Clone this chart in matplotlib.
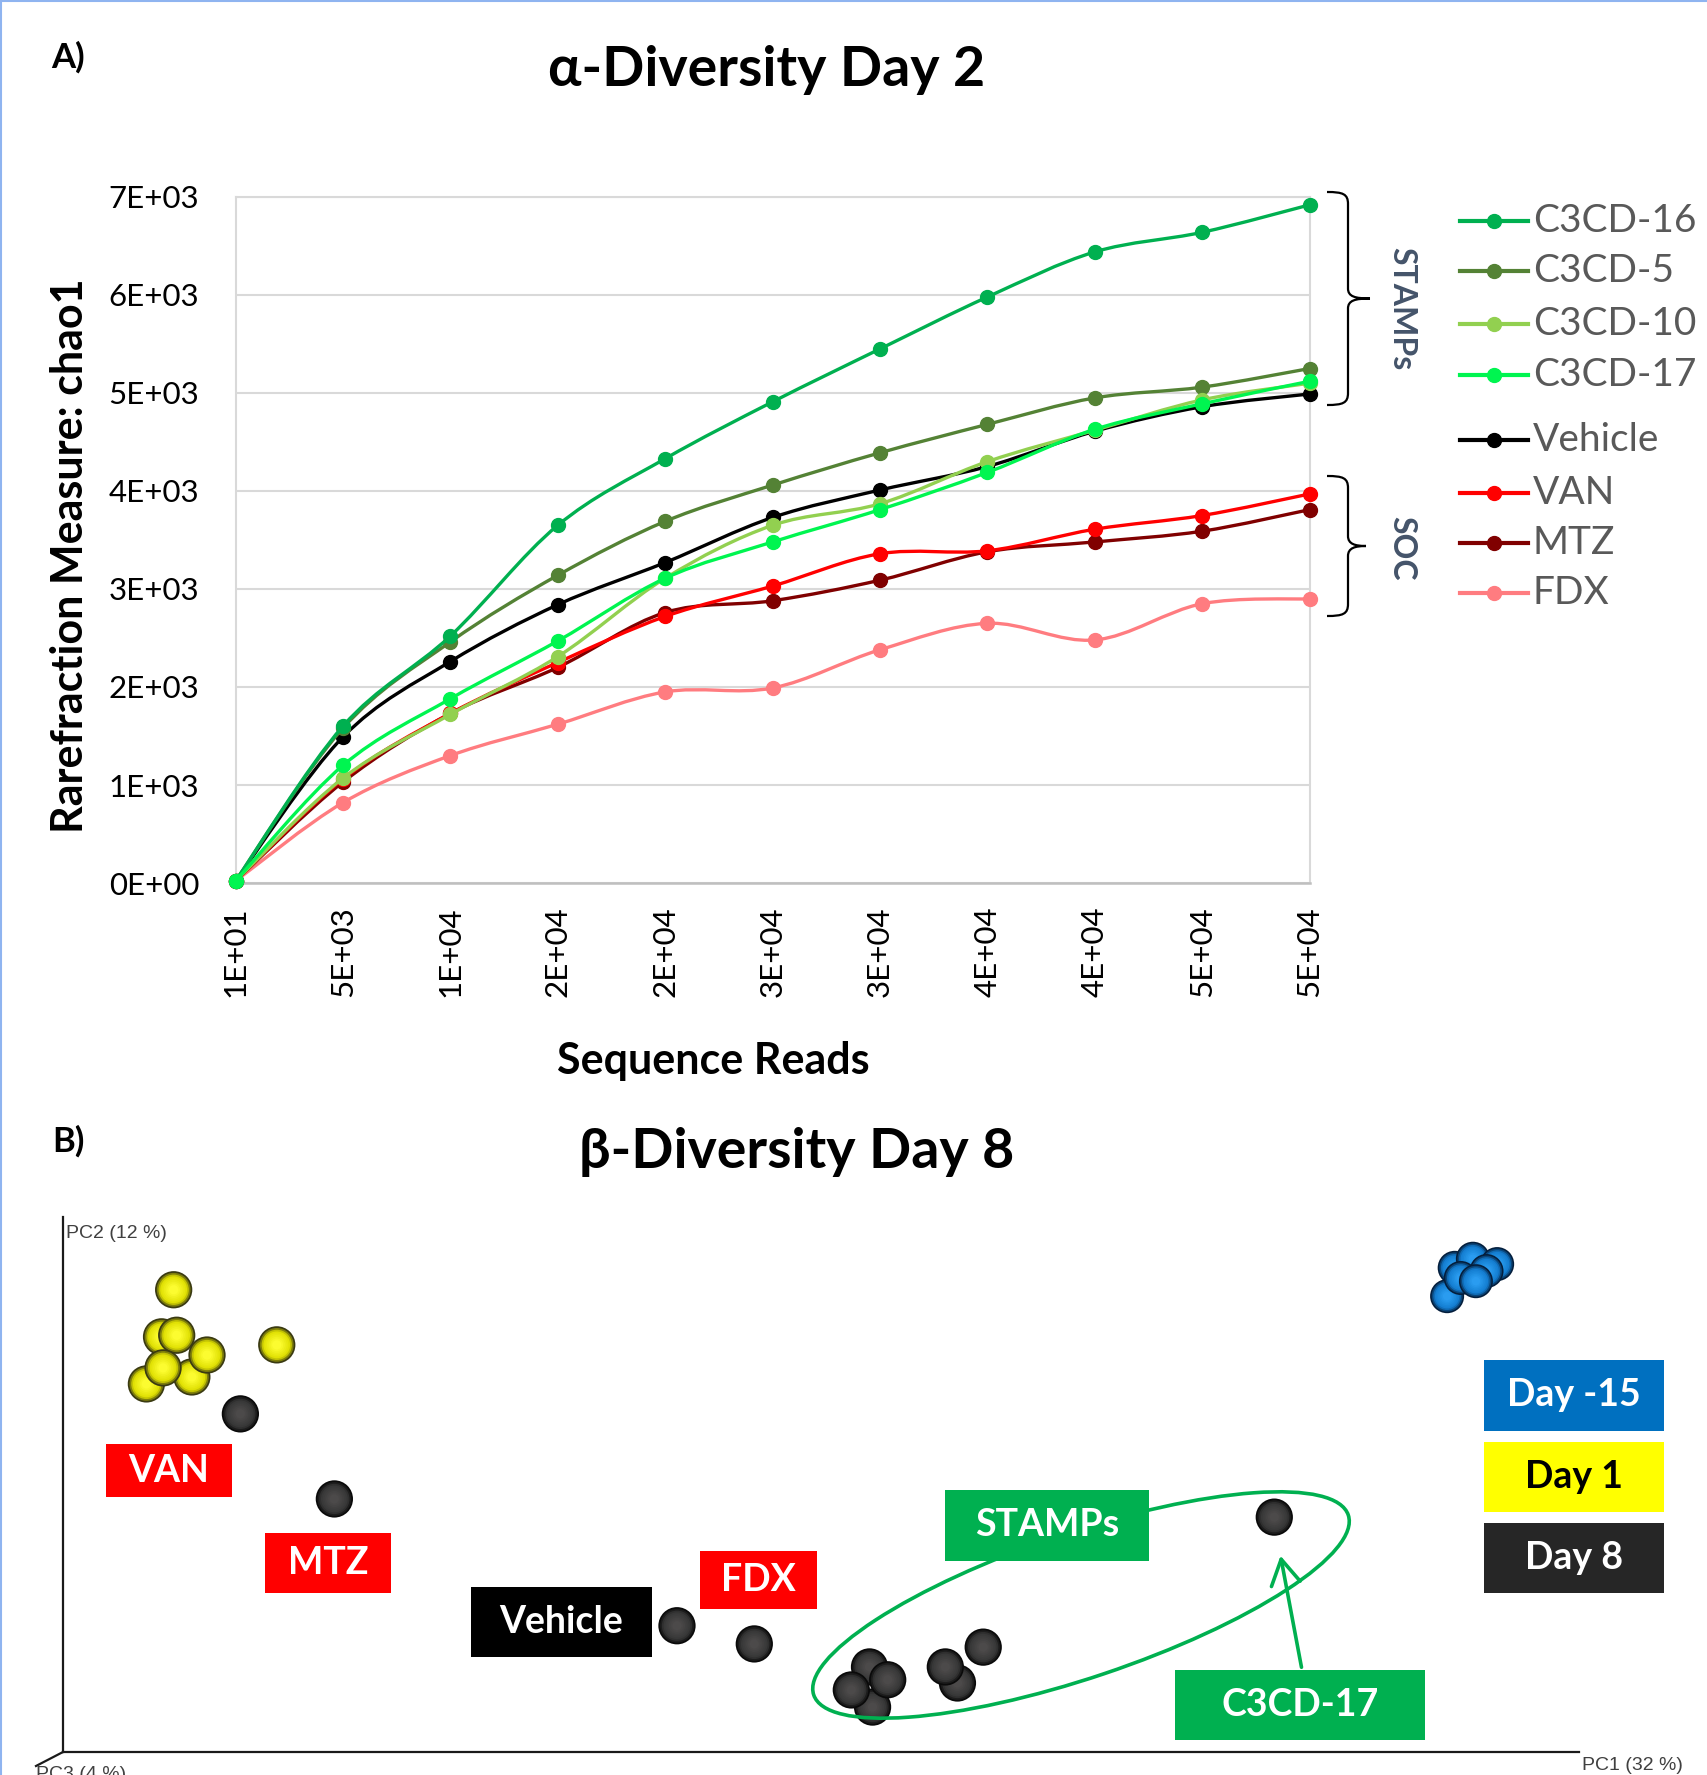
import numpy as np
import matplotlib
matplotlib.use('Agg')
import matplotlib.pyplot as plt
from matplotlib.path import Path
from matplotlib.patches import PathPatch, Rectangle, Ellipse, FancyArrowPatch
from matplotlib.lines import Line2D
from matplotlib.transforms import Affine2D
from matplotlib.colors import to_rgb

plt.rcParams['font.family'] = ['Lato', 'DejaVu Sans']

# ---------------- data: panel A (rarefaction, chao1) ----------------
read_labels = ['1E+01', '5E+03', '1E+04', '2E+04', '2E+04', '3E+04',
               '3E+04', '4E+04', '4E+04', '5E+04', '5E+04']
y_labels = ['0E+00', '1E+03', '2E+03', '3E+03', '4E+03', '5E+03', '6E+03', '7E+03']

c3cd16 = [20, 1600, 2520, 3650, 4330, 4910, 5450, 5980, 6440, 6640, 6920]
c3cd5 = [20, 1580, 2460, 3140, 3690, 4060, 4390, 4680, 4950, 5060, 5250]
c3cd10 = [20, 1070, 1720, 2310, 3110, 3650, 3870, 4300, 4620, 4930, 5100]
c3cd17 = [20, 1200, 1880, 2470, 3110, 3480, 3810, 4190, 4630, 4890, 5120]
vehicle = [20, 1490, 2260, 2840, 3270, 3730, 4010, 4250, 4610, 4860, 4990]
van = [20, 1060, 1730, 2250, 2720, 3030, 3360, 3390, 3610, 3750, 3970]
mtz = [20, 1030, 1730, 2200, 2760, 2880, 3090, 3380, 3480, 3590, 3810]
fdx = [20, 820, 1300, 1620, 1950, 1990, 2380, 2650, 2480, 2850, 2900]

series_names = ['C3CD-16', 'C3CD-5', 'C3CD-10', 'C3CD-17', 'Vehicle', 'VAN', 'MTZ', 'FDX']
series_values = [c3cd16, c3cd5, c3cd10, c3cd17, vehicle, van, mtz, fdx]
series_colors = ['#00B050', '#548235', '#92D050', '#00F550', '#000000', '#FF0000', '#800000', '#FF7C80']

# ---------------- data: panel B (PCoA, PC1 / PC2 scaled 0-1) ----------------
day15_pc1 = [0.913, 0.918, 0.930, 0.922, 0.946, 0.939, 0.932]
day15_pc2 = [0.852, 0.905, 0.922, 0.886, 0.912, 0.899, 0.880]
day1_pc1 = [0.065, 0.055, 0.085, 0.075, 0.095, 0.066, 0.073, 0.141]
day1_pc2 = [0.776, 0.688, 0.701, 0.779, 0.742, 0.718, 0.864, 0.761]
day8_pc1 = [0.117, 0.179, 0.405, 0.456, 0.532, 0.534, 0.520, 0.544, 0.590, 0.582, 0.607, 0.799]
day8_pc2 = [0.632, 0.473, 0.236, 0.202, 0.159, 0.084, 0.116, 0.135, 0.129, 0.159, 0.196, 0.439]

W, H = 1707, 1775
fig = plt.figure(figsize=(W / 100, H / 100), dpi=100)
fig.patch.set_facecolor('white')
# pixel coords of the picture (y going down)
T = Affine2D().scale(1 / W, -1 / H).translate(0, 1) + fig.transFigure


def smooth_path(xs, ys):
    pts = np.column_stack([xs, ys]).astype(float)
    n = len(pts)
    verts = [pts[0]]
    codes = [Path.MOVETO]
    for i in range(n - 1):
        p0 = pts[i - 1] if i > 0 else pts[i]
        p1 = pts[i]
        p2 = pts[i + 1]
        p3 = pts[i + 2] if i + 2 < n else pts[i + 1]
        verts += [p1 + (p2 - p0) / 6, p2 - (p3 - p1) / 6, p2]
        codes += [Path.CURVE4] * 3
    return Path(verts, codes)


# ================= panel A =================
ax = fig.add_axes([235.5 / W, 1 - 883 / H, 1074.2 / W, 686 / H])
x = np.arange(len(read_labels))
draw_order = [7, 6, 5, 4, 1, 2, 0, 3]
for z, i in enumerate(draw_order):
    patch = PathPatch(smooth_path(x, series_values[i]), fill=False,
                      edgecolor=series_colors[i], lw=2.4, zorder=3 + z,
                      capstyle='round', joinstyle='round')
    ax.add_patch(patch)
    ax.plot(x, series_values[i], 'o', color=series_colors[i], ms=10,
            zorder=3 + z + 0.5, clip_on=False)

ax.set_xlim(0, 10)
ax.set_ylim(0, 7000)
ax.set_yticks(np.arange(0, 7001, 1000))
ax.set_yticklabels(y_labels)
ax.set_xticks(x)
ax.set_xticklabels(read_labels, rotation=90)
ax.tick_params(length=0, labelsize=22.5)
ax.tick_params(axis='y', pad=26)
ax.tick_params(axis='x', pad=17)
ax.grid(axis='y', color='#D9D9D9', lw=1.5)
ax.set_axisbelow(True)
for s in ['left', 'right', 'top']:
    ax.spines[s].set_color('#D9D9D9')
    ax.spines[s].set_linewidth(1.5)
ax.spines['bottom'].set_color('#BFBFBF')
ax.spines['bottom'].set_linewidth(1.8)

ax.set_ylabel('Rarefraction Measure: chao1', fontsize=31, fontweight='bold', va='center')
ax.yaxis.set_label_coords(-0.154, 0.477)
ax.set_xlabel('Sequence Reads', fontsize=31, fontweight='bold', va='center')
ax.xaxis.set_label_coords(0.4445, -0.2595)

fig.text(767, 70, 'α-Diversity Day 2', transform=T, ha='center', va='center',
         fontsize=40, fontweight='bold')
fig.text(68, 57, 'A)', transform=T, ha='center', va='center', fontsize=25, fontweight='bold')

# legend
legend_y = [221, 271, 324, 375, 440, 493, 543, 593]
for name, col, ly in zip(series_names, series_colors, legend_y):
    fig.add_artist(Line2D([1460, 1494, 1528], [ly, ly, ly], transform=T, color=col,
                          lw=3, marker='o', ms=10, markevery=[1]))
    fig.text(1533, ly, name, transform=T, ha='left', va='center', fontsize=28,
             color='#595959')


def brace(top, bot, tip_x):
    mid = (top + bot) / 2
    verts = [(1327, top), (1343, top), (1348, top + 2), (1348, top + 12),
             (1348, mid - 10),
             (1348, mid - 2), (1355, mid), (tip_x, mid),
             (1355, mid), (1348, mid + 2), (1348, mid + 10),
             (1348, bot - 12),
             (1348, bot - 2), (1343, bot), (1327, bot)]
    codes = [Path.MOVETO, Path.CURVE4, Path.CURVE4, Path.CURVE4,
             Path.LINETO,
             Path.CURVE4, Path.CURVE4, Path.CURVE4,
             Path.CURVE4, Path.CURVE4, Path.CURVE4,
             Path.LINETO,
             Path.CURVE4, Path.CURVE4, Path.CURVE4]
    fig.add_artist(PathPatch(Path(verts, codes), fill=False, edgecolor='black',
                             lw=1.6, transform=T))


brace(192, 405, 1370)
brace(476, 616, 1366)
fig.text(1402, 309, 'STAMPs', transform=T, rotation=-90, ha='center', va='center',
         fontsize=23, fontweight='bold', color='#44546A')
fig.text(1402, 548, 'SOC', transform=T, rotation=-90, ha='center', va='center',
         fontsize=23, fontweight='bold', color='#44546A')

# ================= panel B =================
fig.text(797, 1152, 'β-Diversity Day 8', transform=T, ha='center', va='center',
         fontsize=40, fontweight='bold')
fig.text(68, 1141, 'B)', transform=T, ha='center', va='center', fontsize=25, fontweight='bold')

bx = fig.add_axes([63 / W, 1 - 1752 / H, 1516 / W, 535 / H])
bx.set_xlim(0, 1)
bx.set_ylim(0, 1)
bx.set_xticks([])
bx.set_yticks([])
bx.spines['top'].set_visible(False)
bx.spines['right'].set_visible(False)
for s in ['left', 'bottom']:
    bx.spines[s].set_color('#1a1a1a')
    bx.spines[s].set_linewidth(1.6)
bx.patch.set_alpha(0)
fig.add_artist(Line2D([63, 36], [1752, 1766], transform=T, color='#1a1a1a', lw=1.6))

pc_font = ['Liberation Sans', 'DejaVu Sans']
fig.text(66, 1233, 'PC2 (12 %)', transform=T, ha='left', va='center', fontsize=14,
         color='#404040', family=pc_font)
fig.text(1582, 1757, 'PC1 (32 %)', transform=T, ha='left', va='top', fontsize=14,
         color='#404040', family=pc_font)
fig.text(36, 1766, 'PC3 (4 %)', transform=T, ha='left', va='top', fontsize=14,
         color='#404040', family=pc_font)

zc = [10]


def spheres(xs, ys, size, rim, base, light):
    # concentric discs, dark rim fading to a lighter centre
    fracs = np.linspace(1.0, 0.25, 9)
    rim, base, light = map(np.array, (to_rgb(rim), to_rgb(base), to_rgb(light)))
    for px, py in zip(xs, ys):
        for k, frac in enumerate(fracs):
            t = k / (len(fracs) - 1)
            if t < 0.3:
                c = rim + (base - rim) * (t / 0.3)
            else:
                c = base + (light - base) * ((t - 0.3) / 0.7)
            bx.scatter([px], [py], s=size * frac ** 2, color=tuple(c), edgecolors='none',
                       zorder=zc[0], clip_on=False)
            zc[0] += 0.001
        zc[0] += 0.1


spheres(day15_pc1, day15_pc2, 600, '#041e3c', '#127ccf', '#2a9cf0')
spheres(day1_pc1, day1_pc2, 720, '#3a3a12', '#dede00', '#fcfc30')
spheres(day8_pc1, day8_pc2, 720, '#0a0a0a', '#363636', '#4c4a4a')

green = '#00B050'
fig.add_artist(Ellipse((1081, 1605), 564, 145, angle=-18.6, transform=T, fill=False,
                       edgecolor=green, lw=2.6, zorder=20))
fig.add_artist(FancyArrowPatch((1302, 1670), (1280, 1553), transform=T,
                               arrowstyle='->,head_length=0.6,head_width=0.35',
                               mutation_scale=30, color=green, lw=2.6, zorder=21))


def label_box(x0, y0, x1, y1, face, text, tcolor, fs=27):
    fig.add_artist(Rectangle((x0, y0), x1 - x0, y1 - y0, transform=T, facecolor=face,
                             edgecolor='none', zorder=30))
    fig.text((x0 + x1) / 2, (y0 + y1) / 2, text, transform=T, ha='center', va='center',
             fontsize=fs, fontweight='bold', color=tcolor, zorder=31)


label_box(106, 1444, 232, 1497, '#FF0000', 'VAN', 'white')
label_box(265, 1533, 391, 1593, '#FF0000', 'MTZ', 'white')
label_box(471, 1587, 652, 1657, '#000000', 'Vehicle', 'white')
label_box(700, 1551, 817, 1609, '#FF0000', 'FDX', 'white')
label_box(945, 1490, 1149, 1561, green, 'STAMPs', 'white')
label_box(1175, 1670, 1425, 1740, green, 'C3CD-17', 'white')
label_box(1484, 1360, 1664, 1431, '#0070C0', 'Day -15', 'white')
label_box(1484, 1442, 1664, 1512, '#FFFF00', 'Day 1', 'black')
label_box(1484, 1523, 1664, 1593, '#262626', 'Day 8', 'white')

# thin blue frame on the left / top edge of the picture
fig.add_artist(Line2D([1, 1], [0, H], transform=T, color='#8FB4F0', lw=1.5))
fig.add_artist(Line2D([0, W], [1, 1], transform=T, color='#8FB4F0', lw=1.5))

fig.savefig('out.png', dpi=100)
